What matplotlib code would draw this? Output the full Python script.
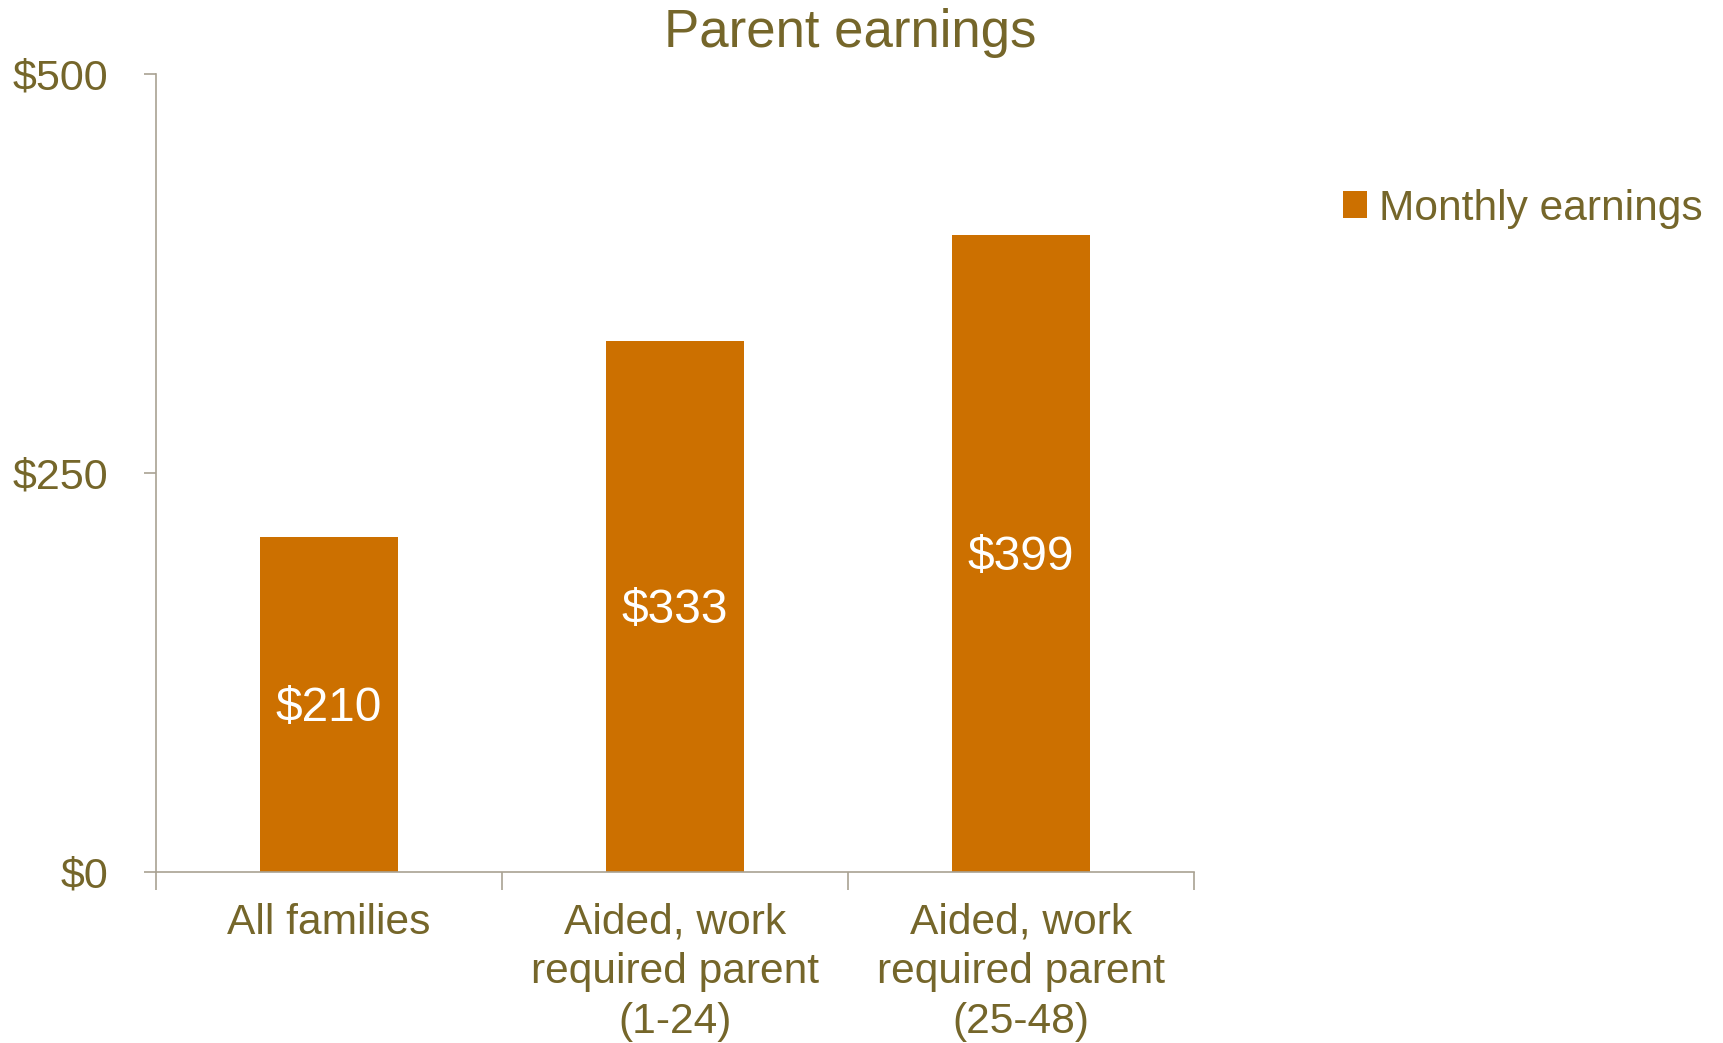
"""Parent earnings bar chart: monthly earnings by family group."""

import matplotlib.pyplot as plt

plt.rcParams["font.family"] = ["Liberation Sans", "DejaVu Sans"]

TEXT_COLOR = "#75662a"
BAR_COLOR = "#cc7000"
AXIS_COLOR = "#a9a292"

categories = [
    "All families",
    "Aided, work\nrequired parent\n(1-24)",
    "Aided, work\nrequired parent\n(25-48)",
]
monthly_earnings = [210, 333, 399]
y_ticks = [0, 250, 500]
y_tick_labels = ["$0", "$250", "$500"]
series_name = "Monthly earnings"
title = "Parent earnings"


def main() -> None:
    fig = plt.figure(figsize=(17.24, 10.43), dpi=100)
    ax = fig.add_axes([0.0905, 0.1640, 0.6021, 0.7650])

    x = list(range(len(categories)))
    bars = ax.bar(x, monthly_earnings, width=0.4, color=BAR_COLOR, label=series_name)

    for rect, val in zip(bars, monthly_earnings):
        ax.annotate(
            f"${val}",
            xy=(rect.get_x() + rect.get_width() / 2, val / 2),
            xytext=(0, -3),
            textcoords="offset points",
            ha="center",
            va="center",
            color="white",
            fontsize=34.5,
        )

    ax.set_xlim(-0.5, len(categories) - 0.5)
    ax.set_ylim(0, 500)

    ax.set_xticks(x)
    ax.set_xticklabels(categories, fontsize=30.6, color=TEXT_COLOR, linespacing=1.32)
    ax.tick_params(axis="x", which="major", length=0, pad=22)
    ax.set_xticks([i - 0.5 for i in range(len(categories) + 1)], minor=True)
    ax.tick_params(axis="x", which="minor", length=13, width=1.2, color=AXIS_COLOR,
                   direction="out")

    ax.set_yticks(y_ticks)
    ax.set_yticklabels(y_tick_labels, fontsize=31, color=TEXT_COLOR)
    ax.tick_params(axis="y", length=9, width=1.2, color=AXIS_COLOR, pad=25.5)

    for side in ("top", "right"):
        ax.spines[side].set_visible(False)
    for side in ("left", "bottom"):
        ax.spines[side].set_color(AXIS_COLOR)
        ax.spines[side].set_linewidth(1.2)

    fig.text(0.493, 0.968, title, ha="center", va="center", fontsize=38, color=TEXT_COLOR)

    leg = fig.legend(
        handles=[bars],
        labels=[series_name],
        loc="center left",
        bbox_to_anchor=(0.7665, 0.800),
        frameon=False,
        fontsize=30.6,
        handlelength=0.58,
        handleheight=0.58,
        handletextpad=0.28,
        borderpad=0,
    )
    for t in leg.get_texts():
        t.set_color(TEXT_COLOR)

    fig.savefig("out.png", dpi=100)


if __name__ == "__main__":
    main()
